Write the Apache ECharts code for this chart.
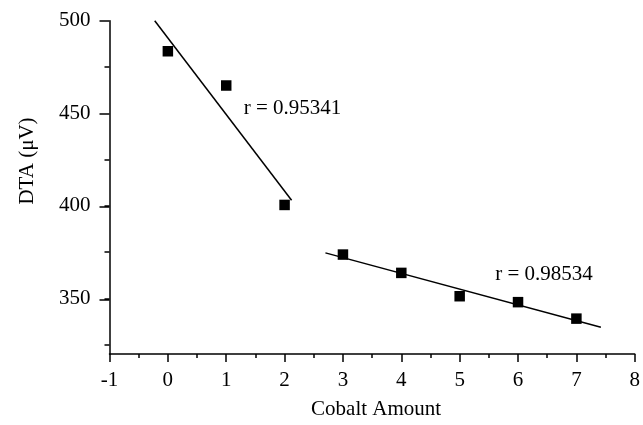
<!DOCTYPE html>
<html>
<head>
<meta charset="utf-8">
<script src="https://cdn.jsdelivr.net/npm/echarts@6/dist/echarts.min.js"></script>
<style>
  html, body { margin: 0; padding: 0; background: #fff; }
  #chart { width: 643px; height: 425px; }
</style>
</head>
<body>
<div id="chart"></div>
<script>
// Measured DTA signal versus cobalt amount
const cobaltAmount = [0, 1, 2, 3, 4, 5, 6, 7];
const dtaValues = [483.5, 465, 400.5, 373.7, 363.8, 351.2, 348, 339.1];

// Endpoints of the two linear fits
const fitLow = [[-0.225, 500], [2.12, 403]];
const fitHigh = [[2.70, 374.6], [7.42, 334.5]];

// Correlation labels: [x, y, text]
const fitLabels = [[1.30, 452.8, 'r = 0.95341'], [5.61, 363.2, 'r = 0.98534']];

// DTA axis extent and tick values
const yMin = 320;
const yMax = 500;
const yStep = 50;
const yMajorTicks = [350, 400, 450, 500];
const yMinorTicks = [325, 375, 425, 475];

const FONT = '"Liberation Serif", "Times New Roman", serif';
const INK = '#000';

const chart = echarts.init(document.getElementById('chart'), null, { renderer: 'canvas' });

const plotBox = { left: 109.5, right: 2.7, top: 20.7, bottom: 69.7, containLabel: false };

// Left axes sharing one vertical extent
function leftAxis(extra) {
  return Object.assign({
    type: 'value',
    position: 'left',
    min: yMin,
    max: yMax,
    splitLine: { show: false },
    axisLine: { show: false, onZero: false },
    axisTick: { show: false },
    axisLabel: { show: false }
  }, extra);
}

chart.setOption({
  animation: false,
  backgroundColor: '#fff',
  // second grid overlays the first and only carries the long DTA ticks
  grid: [Object.assign({}, plotBox), Object.assign({}, plotBox)],
  xAxis: [
    {
      type: 'value',
      gridIndex: 0,
      min: -1,
      max: 8,
      interval: 1,
      name: 'Cobalt Amount',
      nameLocation: 'middle',
      nameGap: 45,
      nameTextStyle: { fontFamily: FONT, fontSize: 21, color: INK, padding: [0, 0, 0, 8] },
      axisLine: { show: true, onZero: false, lineStyle: { color: INK, width: 1.5 } },
      axisTick: { show: true, length: 8, lineStyle: { color: INK, width: 1.5 } },
      minorTick: { show: true, splitNumber: 2, length: 4, lineStyle: { color: INK, width: 1.5 } },
      axisLabel: { fontFamily: FONT, fontSize: 21, color: INK, margin: 16 },
      splitLine: { show: false },
      minorSplitLine: { show: false }
    },
    {
      type: 'value',
      gridIndex: 1,
      min: -1,
      max: 8,
      show: false
    }
  ],
  yAxis: [
    // axis line carrying the data
    leftAxis({
      gridIndex: 0,
      axisLine: { show: true, onZero: false, lineStyle: { color: INK, width: 1.5 } }
    }),
    // short ticks at every 25
    leftAxis({
      gridIndex: 0,
      axisTick: { show: true, length: 5, customValues: yMinorTicks.concat(yMajorTicks), lineStyle: { color: INK, width: 1.5 } }
    }),
    // labels every 50, counted down from the top value on a mirrored scale
    leftAxis({
      gridIndex: 0,
      min: -yMax,
      max: -yMin,
      interval: yStep,
      inverse: true,
      axisLabel: {
        show: true,
        showMaxLabel: false,
        showMinLabel: true,
        formatter: v => String(-v),
        fontFamily: FONT,
        fontSize: 21,
        color: INK,
        margin: 19
      }
    }),
    // long ticks at the labelled values
    leftAxis({
      gridIndex: 1,
      axisTick: { show: true, length: 10, customValues: yMajorTicks, lineStyle: { color: INK, width: 1.5 } }
    })
  ],
  graphic: [{
    type: 'text',
    x: 27.5,
    y: 161,
    rotation: Math.PI / 2,
    style: {
      text: 'DTA (\u03bcV)',
      fontFamily: FONT,
      fontSize: 21,
      fill: INK,
      align: 'center',
      verticalAlign: 'middle'
    }
  }],
  series: [
    {
      type: 'line',
      data: fitLow,
      showSymbol: false,
      symbol: 'none',
      lineStyle: { color: INK, width: 1.5 },
      z: 2
    },
    {
      type: 'line',
      data: fitHigh,
      showSymbol: false,
      symbol: 'none',
      lineStyle: { color: INK, width: 1.5 },
      z: 2
    },
    {
      type: 'scatter',
      data: cobaltAmount.map((x, i) => [x, dtaValues[i]]),
      symbol: 'rect',
      symbolSize: 10.5,
      itemStyle: { color: INK, opacity: 1 },
      z: 3
    },
    {
      type: 'scatter',
      data: fitLabels.map(d => ({ value: [d[0], d[1]], name: d[2] })),
      symbolSize: 0,
      silent: true,
      itemStyle: { opacity: 1 },
      label: {
        show: true,
        position: 'inside',
        align: 'left',
        verticalAlign: 'middle',
        formatter: p => p.name,
        fontFamily: FONT,
        fontSize: 21,
        color: INK,
        opacity: 1
      },
      z: 4
    }
  ]
});
</script>
</body>
</html>
